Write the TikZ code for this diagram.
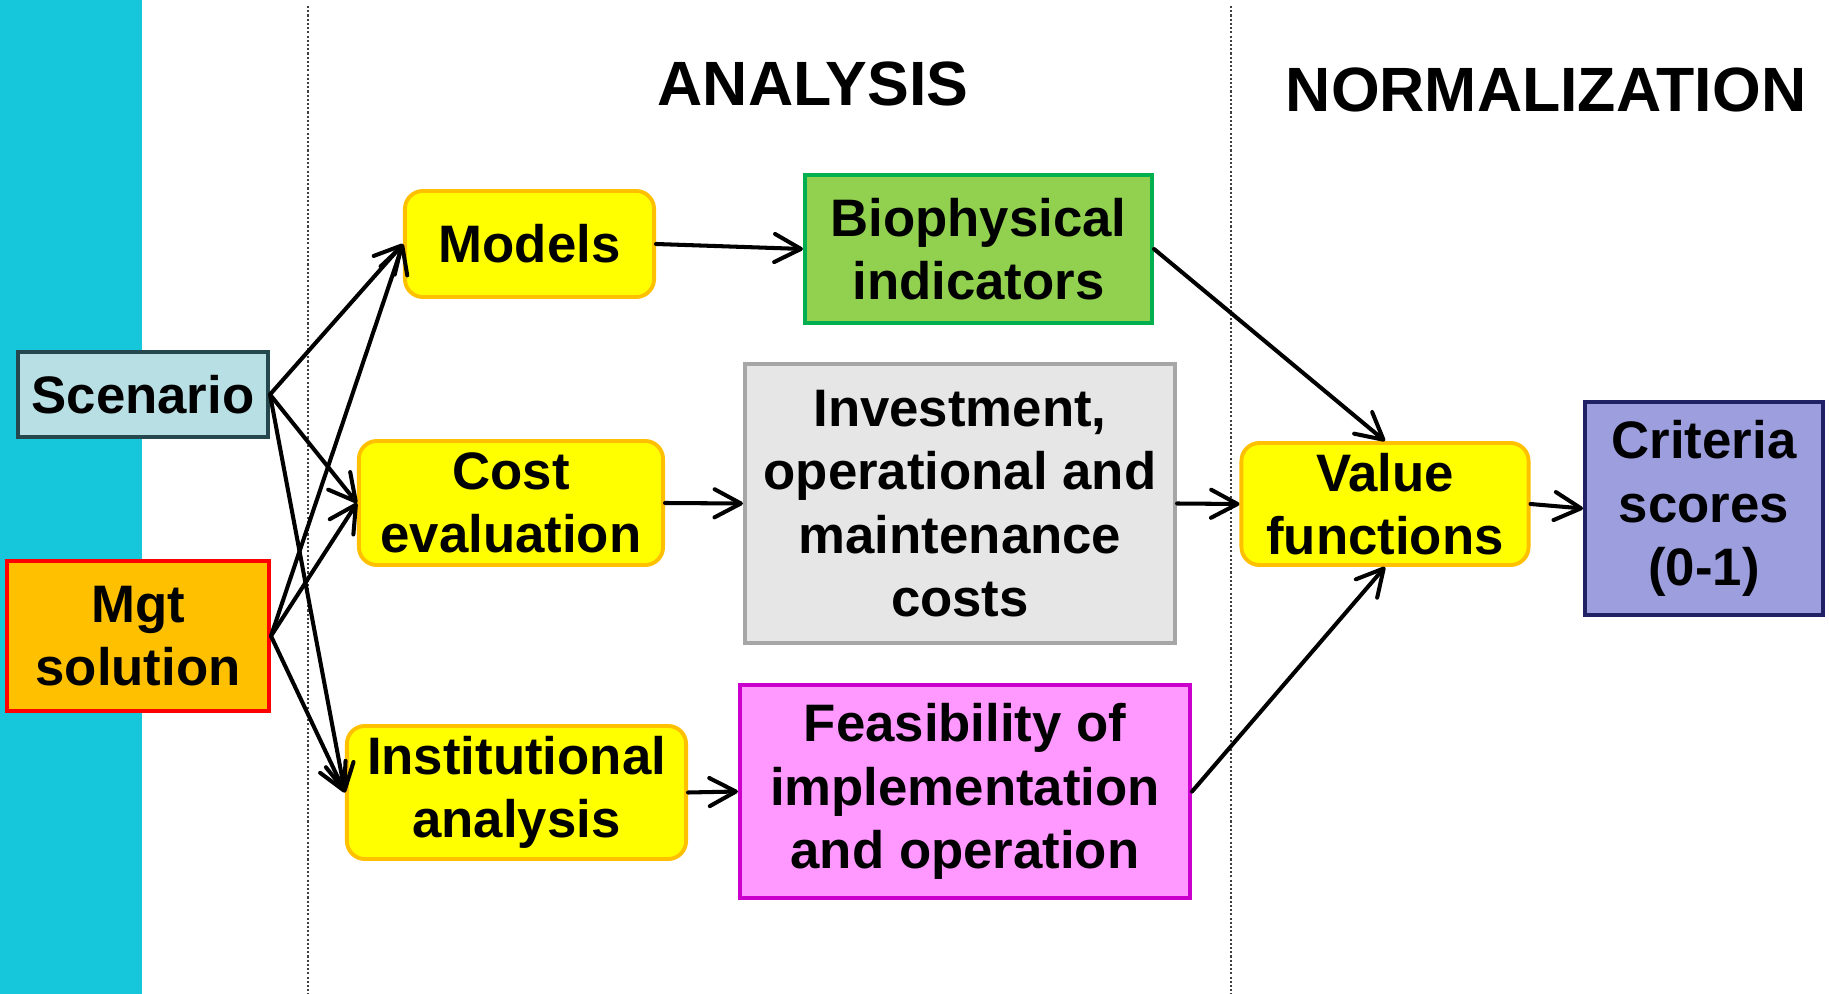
\documentclass[tikz,border=0pt]{standalone}
\usepackage{fontspec}
\setmainfont{Liberation Sans}
\usetikzlibrary{arrows.meta}
\definecolor{band}{RGB}{22,199,220}
\definecolor{scenfill}{RGB}{184,224,228}
\definecolor{scenline}{RGB}{36,72,78}
\definecolor{mgtfill}{RGB}{255,192,0}
\definecolor{ylw}{RGB}{255,255,0}
\definecolor{ylwline}{RGB}{255,192,0}
\definecolor{biofill}{RGB}{146,208,80}
\definecolor{bioline}{RGB}{0,176,80}
\definecolor{invfill}{RGB}{230,230,230}
\definecolor{invline}{RGB}{166,166,166}
\definecolor{feasfill}{RGB}{255,153,255}
\definecolor{feasline}{RGB}{204,0,204}
\definecolor{critfill}{RGB}{156,158,222}
\definecolor{critline}{RGB}{32,32,100}
\tikzset{
  box/.style={draw, line width=1.1pt, inner sep=0pt, align=center,
    font=\fontsize{15pt}{18pt}\selectfont\bfseries},
  ybox/.style={box, fill=ylw, draw=ylwline, rounded corners=0.18cm},
  arr/.style={line width=1.15pt, line cap=round,
    -{Straight Barb[length=7.5pt,width=8pt,line width=1.15pt,round]}},
  sep/.style={draw=black!75, dash pattern=on 0.6pt off 0.6pt, line width=0.4pt},
  title/.style={font=\fontsize{17.8pt}{20pt}\selectfont\bfseries, inner sep=0pt}
}
\begin{document}
\begin{tikzpicture}[x=0.01cm,y=-0.01cm]
\useasboundingbox (0,0) rectangle (1829,994);
\fill[white] (0,0) rectangle (1829,994);
% left colour band
\fill[band] (0,0) rectangle (142,994);
% column separators
\draw[sep] (308,6) -- (308,994);
\draw[sep] (1231,6) -- (1231,994);
% headings
\node[title] (hana) at (813,84) {ANALYSIS};
\node[title] (hnorm) at (1546,90) {NORMALIZATION};
% inputs
\node[box, fill=scenfill, draw=scenline, minimum width=2.50cm, minimum height=0.85cm] (scen) at (143,394.5) {Scenario};
\node[box, fill=mgtfill, draw=red, minimum width=2.62cm, minimum height=1.50cm] (mgt) at (138,636) {Mgt\\solution};
% analysis steps
\node[ybox, minimum width=2.49cm, minimum height=1.06cm] (models) at (529.5,244) {Models};
\node[ybox, minimum width=3.04cm, minimum height=1.24cm] (cost) at (511,503) {Cost\\evaluation};
\node[ybox, minimum width=3.39cm, minimum height=1.33cm] (inst) at (516.5,792.5) {Institutional\\analysis};
% analysis outputs
\node[box, fill=biofill, draw=bioline, minimum width=3.47cm, minimum height=1.48cm] (bio) at (978.5,249) {Biophysical\\indicators};
\node[box, fill=invfill, draw=invline, minimum width=4.30cm, minimum height=2.79cm] (inv) at (960,503.5) {Investment,\\operational and\\maintenance\\costs};
\node[box, fill=feasfill, draw=feasline, minimum width=4.50cm, minimum height=2.13cm] (feas) at (965,791.5) {Feasibility of\\implementation\\and operation};
% normalization
\node[ybox, minimum width=2.87cm, minimum height=1.22cm] (value) at (1385,504) {Value\\functions};
\node[box, fill=critfill, draw=critline, minimum width=2.38cm, minimum height=2.13cm] (crit) at (1704,508.5) {Criteria\\scores\\(0-1)};
% connectors
\draw[arr] (scen.east) -- (models.west);
\draw[arr] (scen.east) -- (cost.west);
\draw[arr] (scen.east) -- (inst.west);
\draw[arr] (mgt.east) -- (models.west);
\draw[arr] (mgt.east) -- (cost.west);
\draw[arr] (mgt.east) -- (inst.west);
\draw[arr] (models.east) -- (bio.west);
\draw[arr] (cost.east) -- (inv.west);
\draw[arr] (inst.east) -- (feas.west);
\draw[arr] (bio.east) -- (value.north);
\draw[arr] (inv.east) -- (value.west);
\draw[arr] (feas.east) -- (value.south);
\draw[arr] (value.east) -- (crit.west);
\end{tikzpicture}
\end{document}
